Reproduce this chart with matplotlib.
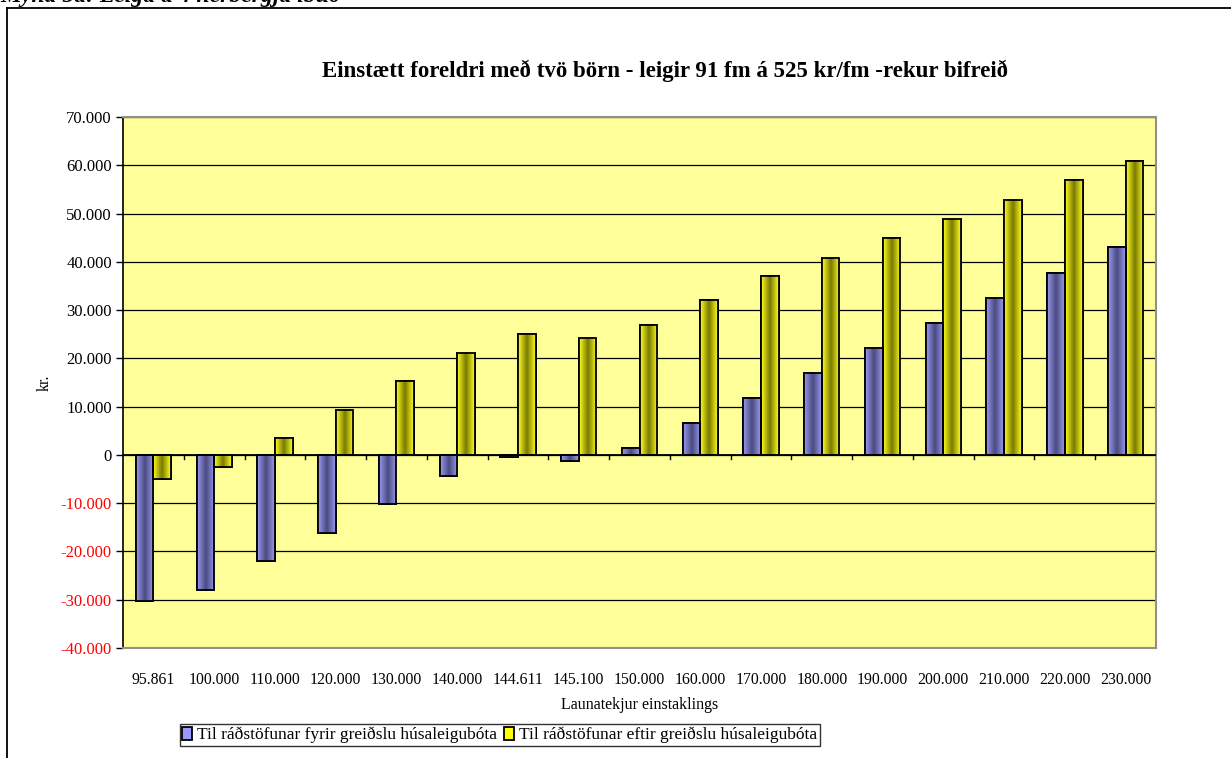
import matplotlib.pyplot as plt
import numpy as np
from matplotlib.lines import Line2D
from matplotlib.colors import LinearSegmentedColormap

plt.rcParams['font.family'] = ['Liberation Serif', 'DejaVu Serif']

categories = ["95.861", "100.000", "110.000", "120.000", "130.000", "140.000",
              "144.611", "145.100", "150.000", "160.000", "170.000", "180.000",
              "190.000", "200.000", "210.000", "220.000", "230.000"]
fyrir = [-30300, -27900, -22000, -16100, -10200, -4300, -500, -1300, 1400,
         6600, 11800, 17000, 22200, 27300, 32600, 37700, 43000]
eftir = [-4900, -2500, 3500, 9400, 15300, 21200, 25000, 24300, 26900,
         32100, 37000, 40900, 44900, 48900, 52900, 56900, 60900]
yticks = np.arange(-40000, 70001, 10000)

fig = plt.figure(figsize=(12.31, 7.58), dpi=100)
ax = fig.add_axes([0.0999, 0.1451, 0.8392, 0.7005])
ax.set_facecolor('#ffff99')

x = np.arange(len(categories))
w = 0.29
b1 = ax.bar(x - w / 2, fyrir, w, color='#9999ff', edgecolor='black', linewidth=1.3, zorder=3,
            label='Til ráðstöfunar fyrir greiðslu húsaleigubóta')
b2 = ax.bar(x + w / 2, eftir, w, color='#ffff00', edgecolor='black', linewidth=1.3, zorder=3,
            label='Til ráðstöfunar eftir greiðslu húsaleigubóta')

# cylinder-like shading inside each bar
cm_blue = LinearSegmentedColormap.from_list('b', ['#9a9af0', '#4a4a80', '#9a9af0'])
cm_yel = LinearSegmentedColormap.from_list('y', ['#ffff20', '#7a7a00', '#ffff20'])
grad = np.linspace(0, 1, 64).reshape(1, -1)
for bars, cm in [(b1, cm_blue), (b2, cm_yel)]:
    for p in bars:
        x0, y0 = p.get_x(), p.get_y()
        h = p.get_height()
        ax.imshow(grad, cmap=cm, aspect='auto', zorder=3.5,
                  extent=[x0, x0 + p.get_width(), y0, y0 + h], interpolation='bilinear')
        ax.add_patch(plt.Rectangle((x0, y0), p.get_width(), h, fill=False, edgecolor='black',
                                   linewidth=1.3, zorder=4))

ax.set_xlim(-0.5, len(categories) - 0.5)
ax.set_ylim(-40000, 70000)
ax.set_yticks(yticks)
ax.set_yticklabels([f"{v:,}".replace(',', '.') for v in yticks], fontsize=12)
for lbl, v in zip(ax.get_yticklabels(), yticks):
    if v < 0:
        lbl.set_color('red')
ax.yaxis.grid(True, color='black', linewidth=0.9, zorder=1)
ax.set_axisbelow(True)
ax.tick_params(axis='y', direction='out', length=5, width=1, pad=3)

# categories along bottom, ticks on zero line
ax.set_xticks(x)
ax.set_xticklabels(categories, fontsize=11.3)
ax.tick_params(axis='x', length=0, pad=17)
ax.axhline(0, color='black', linewidth=1.3, zorder=5)
for b in np.arange(0.5, len(categories) - 0.5, 1):
    ax.plot([b, b], [0, -900], color='black', linewidth=1, zorder=5)

for s in ['top', 'right', 'bottom']:
    ax.spines[s].set_color('#909090')
    ax.spines[s].set_linewidth(1.5)
ax.spines['left'].set_color('black')
ax.spines['left'].set_linewidth(1.2)

ax.set_ylabel('kr.', fontsize=11.5, labelpad=6)
ax.set_xlabel('Launatekjur einstaklings', fontsize=11.5, labelpad=7)

fig.text(0.540, 0.906, 'Einstætt foreldri með tvö börn - leigir 91 fm á 525 kr/fm -rekur bifreið',
         ha='center', va='center', fontsize=16.5, fontweight='bold')

leg = fig.legend(handles=[b1, b2], loc='lower left', bbox_to_anchor=(0.146, 0.016),
                 ncol=2, fontsize=12.5, frameon=True, fancybox=False, edgecolor='black',
                 handlelength=0.55, handleheight=0.75, handletextpad=0.3, columnspacing=0.4,
                 borderpad=0.15, borderaxespad=0)
leg.get_frame().set_linewidth(1)

# outer chart frame and the caption above it (cut off by the page edge)
fig.add_artist(Line2D([7 / 1231, 7 / 1231], [0, 1 - 8 / 758], color='black', linewidth=1.3))
fig.add_artist(Line2D([7 / 1231, 1], [1 - 8 / 758, 1 - 8 / 758], color='black', linewidth=1.3))
fig.text(0.0, 1.006, 'Mynd 5a: Leiga á 4 herbergja íbúð', ha='left', va='center',
         fontsize=17, fontweight='bold', style='italic')

fig.savefig('out.png', dpi=100)
